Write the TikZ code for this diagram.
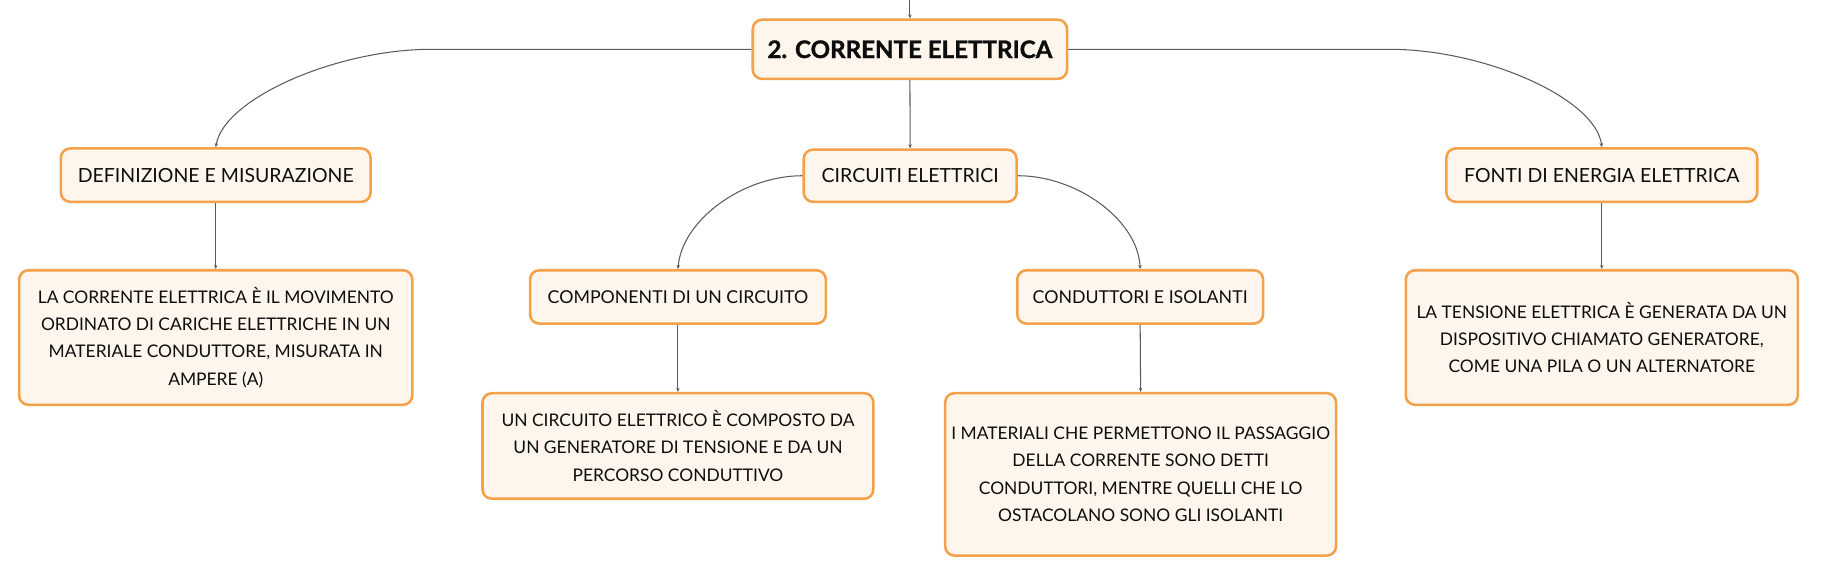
\documentclass[tikz,border=0pt]{standalone}
\usepackage{fontspec}
\setmainfont{Lato}
\newfontfamily\titlefont[BoldFeatures={FakeBold=1.3}]{Lato}
\usetikzlibrary{arrows.meta}
\definecolor{boxborder}{HTML}{F5A04B}
\definecolor{boxfill}{HTML}{FEF6EC}
\definecolor{linkgray}{HTML}{5A5A5A}
\tikzset{
  mbox/.style={draw=boxborder, fill=boxfill, line width=2.2pt, rounded corners=8pt,
    inner sep=0pt, align=center, text=black!95,
    font=\fontsize{15}{23.5}\selectfont},
  lvlone/.style={mbox, font=\fontsize{16.8}{20}\selectfont},
  lvltwo/.style={mbox, font=\fontsize{15.3}{20}\selectfont},
  titlebox/.style={mbox, font=\fontsize{20.8}{24}\titlefont\bfseries},
  link/.style={draw=linkgray, line width=0.9pt, -{Stealth[length=3.5pt,width=3pt]}}
}
\begin{document}
\begin{tikzpicture}[x=1pt,y=-1pt]
\useasboundingbox (0,0) rectangle (1570,497.5);
% nodes
\node[titlebox, minimum width=271pt, minimum height=51pt] (top) at (784.5,42.5) {2. CORRENTE ELETTRICA};
\node[lvlone, minimum width=267pt, minimum height=46pt] (def) at (186,151) {DEFINIZIONE E MISURAZIONE};
\node[lvlone, minimum width=183.5pt, minimum height=45pt] (circ) at (784.7,151.5) {CIRCUITI ELETTRICI};
\node[lvlone, minimum width=268pt, minimum height=46pt] (fonti) at (1381,151) {FONTI DI ENERGIA ELETTRICA};
\node[mbox, minimum width=339pt, minimum height=116pt] (deftxt) at (186,291) {LA CORRENTE ELETTRICA È IL MOVIMENTO\\ORDINATO DI CARICHE ELETTRICHE IN UN\\MATERIALE CONDUTTORE, MISURATA IN\\AMPERE (A)};
\node[lvltwo, minimum width=255pt, minimum height=46pt] (comp) at (584.5,256) {COMPONENTI DI UN CIRCUITO};
\node[lvltwo, minimum width=212pt, minimum height=46pt] (cond) at (983,256) {CONDUTTORI E ISOLANTI};
\node[mbox, minimum width=337pt, minimum height=91pt] (comptxt) at (584.5,384.5) {UN CIRCUITO ELETTRICO È COMPOSTO DA\\UN GENERATORE DI TENSIONE E DA UN\\PERCORSO CONDUTTIVO};
\node[mbox, minimum width=337pt, minimum height=140pt] (condtxt) at (983.4,409) {I MATERIALI CHE PERMETTONO IL PASSAGGIO\\DELLA CORRENTE SONO DETTI\\CONDUTTORI, MENTRE QUELLI CHE LO\\OSTACOLANO SONO GLI ISOLANTI};
\node[mbox, minimum width=338pt, minimum height=116pt] (fontitxt) at (1381,291) {LA TENSIONE ELETTRICA È GENERATA DA UN\\DISPOSITIVO CHIAMATO GENERATORE,\\COME UNA PILA O UN ALTERNATORE};
% helper coordinates
\coordinate (in) at (784.5,0);
\coordinate (lb) at (372,42.5);
\coordinate (rb) at (1198,42.5);
% connectors
\draw[link] (in) -- (top.north);
\draw[link] (top.west) -- (lb) .. controls (290,42.5) and (193,85) .. (def.north);
\draw[link] (top.east) -- (rb) .. controls (1280,42.5) and (1376,85) .. (fonti.north);
\draw[link] (top.south) -- (circ.north);
\draw[link] (circ.west) .. controls (640,151.5) and (588,190) .. (comp.north);
\draw[link] (circ.east) .. controls (929,151.5) and (981,190) .. (cond.north);
\draw[link] (def.south) -- (deftxt.north);
\draw[link] (comp.south) -- (comptxt.north);
\draw[link] (cond.south) -- (condtxt.north);
\draw[link] (fonti.south) -- (fontitxt.north);
\end{tikzpicture}
\end{document}
